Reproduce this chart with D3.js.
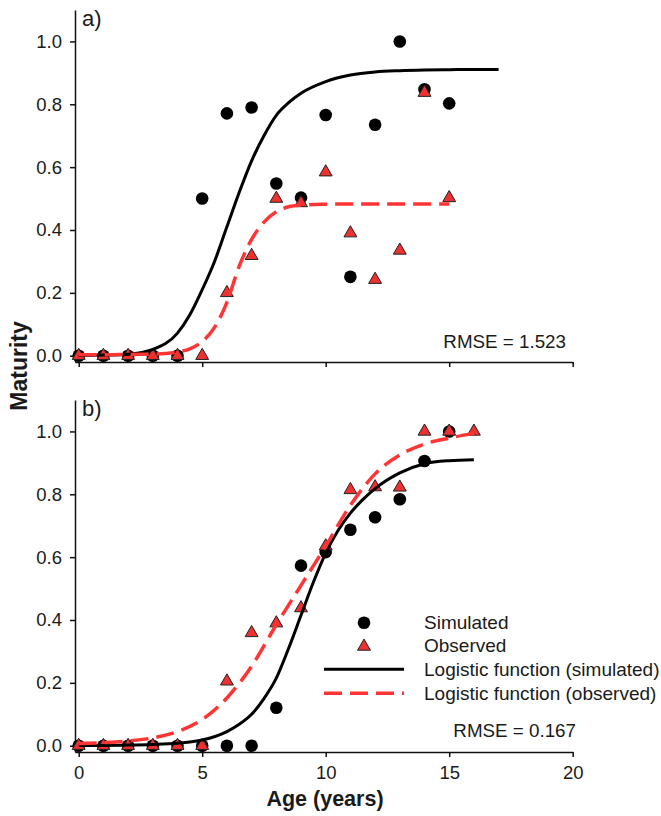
<!DOCTYPE html>
<html>
<head>
<meta charset="utf-8">
<script src="https://cdn.jsdelivr.net/npm/d3@7"></script>
<style>
  body { margin: 0; background: #fff; }
  svg text { font-family: "Liberation Sans", Arial, sans-serif; fill: #1a1a1a; }
</style>
</head>
<body>
<div id="chart"></div>
<script>
// ---- data ----
// panel a)
let agesTopSim = [0, 1, 2, 3, 4, 5, 6, 7, 8, 9, 10, 11, 12, 13, 14, 15];
let simTop = [0, 0, 0, 0, 0, 0.5, 0.771, 0.79, 0.548, 0.503, 0.766, 0.251, 0.735, 1.0, 0.848, 0.803];
let agesTopObs = [0, 1, 2, 3, 4, 5, 6, 7, 8, 9, 10, 11, 12, 13, 14, 15];
let obsTop = [0, 0, 0, 0, 0, 0, 0.2, 0.318, 0.5, 0.486, 0.584, 0.39, 0.242, 0.335, 0.837, 0.502];
let fitAgesTopSim = [0, 1, 2, 3, 4, 4.5, 5, 5.5, 6, 6.5, 7, 7.5, 8, 8.5, 9, 10, 11, 12, 13, 14, 15, 16, 17];
let fitTopSim = [0.001, 0.002, 0.005, 0.02, 0.072, 0.13, 0.21, 0.3, 0.41, 0.52, 0.62, 0.7, 0.765, 0.805, 0.835, 0.872, 0.893, 0.903, 0.907, 0.909, 0.91, 0.911, 0.911];
let fitAgesTopObs = [0, 1, 2, 3, 4, 4.5, 5, 5.5, 6, 6.5, 7, 7.5, 8, 8.5, 9, 10, 11, 12, 13, 14, 15];
let fitTopObs = [0.003, 0.003, 0.004, 0.005, 0.012, 0.022, 0.045, 0.09, 0.17, 0.285, 0.37, 0.425, 0.458, 0.474, 0.479, 0.482, 0.483, 0.483, 0.483, 0.483, 0.483];

// panel b)
let agesBotSim = [0, 1, 2, 3, 4, 5, 6, 7, 8, 9, 10, 11, 12, 13, 14, 15];
let simBot = [0, 0, 0, 0, 0, 0, 0, 0, 0.121, 0.573, 0.616, 0.687, 0.727, 0.784, 0.906, 1.0];
let agesBotObs = [0, 1, 2, 3, 4, 5, 6, 7, 8, 9, 10, 11, 12, 13, 14, 15, 16];
let obsBot = [0, 0, 0, 0, 0, 0, 0.205, 0.359, 0.39, 0.438, 0.635, 0.814, 0.823, 0.822, 1.0, 1.0, 1.0];
let fitAgesBotSim = [0, 1, 2, 3, 4, 5, 6, 6.5, 7, 7.5, 8, 8.5, 9, 9.5, 10, 10.5, 11, 11.5, 12, 13, 14, 15, 16];
let fitBotSim = [0.001, 0.001, 0.002, 0.004, 0.008, 0.018, 0.045, 0.068, 0.1, 0.15, 0.215, 0.31, 0.415, 0.52, 0.613, 0.685, 0.74, 0.783, 0.818, 0.868, 0.897, 0.907, 0.91];
let fitAgesBotObs = [0, 1, 2, 3, 4, 5, 6, 7, 8, 9, 10, 11, 12, 13, 14, 15, 16];
let fitBotObs = [0.007, 0.01, 0.015, 0.025, 0.045, 0.083, 0.152, 0.253, 0.385, 0.51, 0.635, 0.765, 0.865, 0.925, 0.96, 0.979, 0.994];

let yTicks = [0, 0.2, 0.4, 0.6, 0.8, 1.0];
let xTicks = [0, 5, 10, 15, 20];
let legendLabels = ["Simulated", "Observed", "Logistic function (simulated)", "Logistic function (observed)"];

const width = 661, height = 816;
const RED_LINE = "#ff3535", RED_FILL = "#ee3030";

let svg = d3.select("#chart").append("svg")
    .attr("width", width)
    .attr("height", height);

let x = d3.scaleLinear().domain([-0.15, 20]).range([75, 572.7]);

function zip(a, b) { return a.map((v, i) => [v, b[i]]); }

function drawPanel(top, opts) {
    let y = d3.scaleLinear().domain([-0.02, 1.1]).range([top + 352, top]);
    let g = svg.append("g");

    // axes
    let yAxis = g.append("g")
        .attr("transform", `translate(${x.range()[0]},0)`)
        .call(d3.axisLeft(y).tickValues(yTicks).tickFormat(d3.format(".1f")).tickSize(5).tickSizeOuter(0).tickPadding(8));
    let xAxis = g.append("g")
        .attr("transform", `translate(0,${y.range()[0]})`)
        .call(d3.axisBottom(x).tickValues(xTicks).tickSize(5).tickSizeOuter(0).tickPadding(9)
            .tickFormat(opts.xLabels ? d3.format("d") : ""));
    [yAxis, xAxis].forEach(a => {
        a.selectAll("path, line").attr("stroke", "#111").attr("stroke-width", 1.5);
        a.selectAll("text").style("font-size", "18.5px").attr("fill", "#1a1a1a");
    });

    // points
    g.append("g").selectAll("circle")
        .data(zip(opts.simAges, opts.sim))
        .enter().append("circle")
        .attr("cx", d => x(d[0]))
        .attr("cy", d => y(d[1]))
        .attr("r", 6.3)
        .attr("fill", "#000");

    g.append("g").selectAll("path")
        .data(zip(opts.obsAges, opts.obs))
        .enter().append("path")
        .attr("transform", d => `translate(${x(d[0])},${y(d[1])})`)
        .attr("d", d3.symbol().type(d3.symbolTriangle).size(72))
        .attr("fill", RED_FILL)
        .attr("stroke", "#222")
        .attr("stroke-width", 1);

    // fitted logistic curves
    let line = d3.line().x(d => x(d[0])).y(d => y(d[1])).curve(d3.curveMonotoneX);
    g.append("path")
        .datum(zip(opts.fitSimAges, opts.fitSim))
        .attr("d", line)
        .attr("fill", "none")
        .attr("stroke", "#000")
        .attr("stroke-width", 3);
    g.append("path")
        .datum(zip(opts.fitObsAges, opts.fitObs))
        .attr("d", line)
        .attr("fill", "none")
        .attr("stroke", RED_LINE)
        .attr("stroke-width", 3.5)
        .attr("stroke-dasharray", "18,8");

    // panel letter and RMSE
    g.append("text")
        .attr("x", 82)
        .attr("y", top + 16)
        .style("font-size", "22px")
        .text(opts.letter);
    g.append("text")
        .attr("x", opts.rmseX)
        .attr("y", top + opts.rmseDy)
        .attr("text-anchor", "end")
        .style("font-size", "18.8px")
        .text(opts.rmse);

    return y;
}

drawPanel(10, {
    simAges: agesTopSim, sim: simTop, obsAges: agesTopObs, obs: obsTop,
    fitSimAges: fitAgesTopSim, fitSim: fitTopSim, fitObsAges: fitAgesTopObs, fitObs: fitTopObs,
    letter: "a)", rmse: "RMSE = 1.523", rmseX: 566, rmseDy: 338, xLabels: false
});
drawPanel(400, {
    simAges: agesBotSim, sim: simBot, obsAges: agesBotObs, obs: obsBot,
    fitSimAges: fitAgesBotSim, fitSim: fitBotSim, fitObsAges: fitAgesBotObs, fitObs: fitBotObs,
    letter: "b)", rmse: "RMSE = 0.167", rmseX: 576, rmseDy: 336.5, xLabels: true
});

// legend (panel b)
let legend = svg.append("g");
let rowY = [622.7, 645.5, 669.3, 693.3];
legend.append("circle").attr("cx", 364).attr("cy", rowY[0]).attr("r", 6.3).attr("fill", "#000");
legend.append("path")
    .attr("transform", `translate(364,${rowY[1] + 1})`)
    .attr("d", d3.symbol().type(d3.symbolTriangle).size(72))
    .attr("fill", RED_FILL).attr("stroke", "#222").attr("stroke-width", 1);
legend.append("line")
    .attr("x1", 324).attr("x2", 404).attr("y1", rowY[2]).attr("y2", rowY[2])
    .attr("stroke", "#000").attr("stroke-width", 3);
legend.append("line")
    .attr("x1", 324).attr("x2", 404).attr("y1", rowY[3]).attr("y2", rowY[3])
    .attr("stroke", RED_LINE).attr("stroke-width", 3.5).attr("stroke-dasharray", "18,8");
legend.selectAll("text.lab")
    .data(legendLabels)
    .enter().append("text")
    .attr("class", "lab")
    .attr("x", 424)
    .attr("y", (d, i) => rowY[i] + 6.5)
    .style("font-size", "19px")
    .text(d => d);

// axis titles
svg.append("text")
    .attr("x", 325)
    .attr("y", 806)
    .attr("text-anchor", "middle")
    .style("font-size", "21.5px")
    .style("font-weight", "bold")
    .text("Age (years)");
svg.append("text")
    .attr("transform", "translate(27,366) rotate(-90)")
    .attr("text-anchor", "middle")
    .style("font-size", "23px")
    .style("font-weight", "bold")
    .text("Maturity");
</script>
</body>
</html>
